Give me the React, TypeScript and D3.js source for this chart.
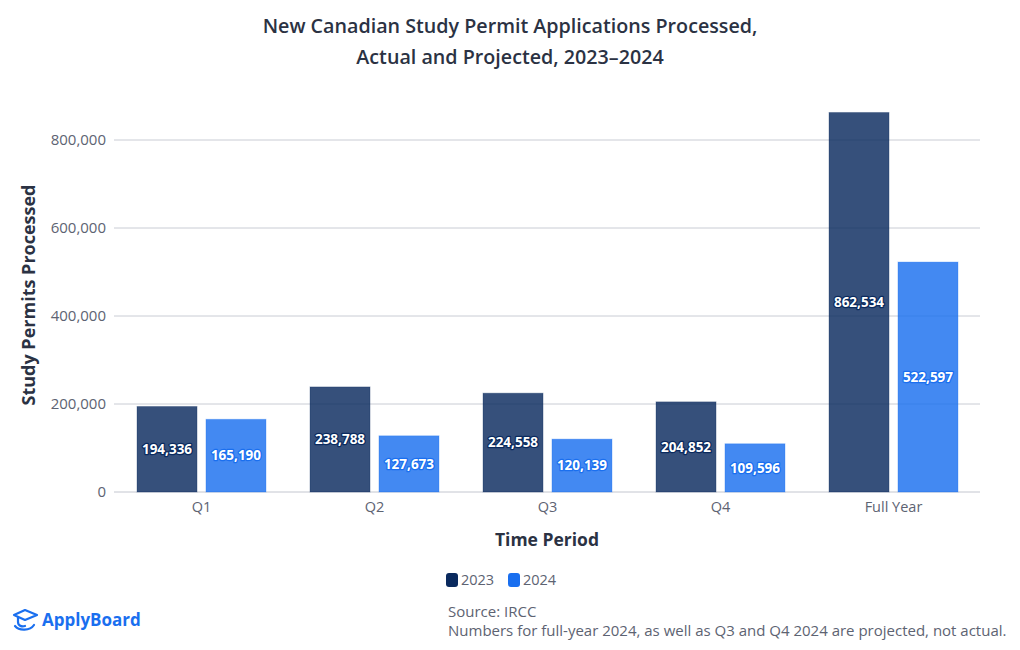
import React from "react";
import * as d3 from "d3";

const categories = ["Q1", "Q2", "Q3", "Q4", "Full Year"];
const seriesNames = ["2023", "2024"];
const values2023 = [194336, 238788, 224558, 204852, 862534];
const values2024 = [165190, 127673, 120139, 109596, 522597];
const yTicks = [0, 200000, 400000, 600000, 800000];
const colors = ["#0a2a5e", "#1a6fef"];

const W = 1020;
const H = 650;
const FONT = "'Open Sans', 'Noto Sans', sans-serif";

export default function App() {
  const left = 115;
  const right = 980;
  const bottom = 492;
  const x0 = d3.scaleBand<string>().domain(categories).range([left, right]).paddingInner(0).paddingOuter(0);
  const x1 = d3.scaleBand<string>().domain(seriesNames).range([22, x0.bandwidth() - 22]).paddingInner(0.13);
  const y = d3.scaleLinear().domain([0, 800000]).range([bottom, 140]);
  const fmt = d3.format(",");
  const series = [values2023, values2024];

  return (
    <svg width={W} height={H} style={{ display: "block", position: "absolute", left: 0, top: 0, background: "#fff" }} fontFamily={FONT}>
      <text x={510} y={33} textAnchor="middle" fontSize={19.7} fontWeight={600} fill="#2b3243">
        New Canadian Study Permit Applications Processed,
      </text>
      <text x={510} y={64} textAnchor="middle" fontSize={19.7} fontWeight={600} fill="#2b3243">
        Actual and Projected, 2023–2024
      </text>

      {yTicks.map((t) => (
        <g key={t}>
          <line x1={left - 1} x2={right} y1={y(t)} y2={y(t)} stroke={t === 0 ? "#c3c6cf" : "#c9ccd4"} strokeWidth={1} />
          <text x={106} y={y(t)} dy="0.35em" textAnchor="end" fontSize={15} fill="#5d6372">
            {fmt(t)}
          </text>
        </g>
      ))}

      {categories.map((c, i) => (
        <g key={c} transform={`translate(${x0(c)},0)`}>
          {series.map((vals, s) => {
            const bx = x1(seriesNames[s])!;
            const bw = x1.bandwidth();
            const by = y(vals[i]);
            return (
              <g key={s}>
                <rect x={bx} y={by} width={bw} height={bottom - by} fill={colors[s]} fillOpacity={0.82} stroke={colors[s]} strokeOpacity={0.3} strokeWidth={1} />
                <text
                  x={bx + bw / 2}
                  y={(by + bottom) / 2}
                  dy="0.35em"
                  textAnchor="middle"
                  fontSize={13.5}
                  fontWeight={700}
                  fill="#fff"
                  stroke={colors[s]}
                  strokeWidth={2.5}
                  paintOrder="stroke"
                  strokeLinejoin="round"
                >
                  {fmt(vals[i])}
                </text>
              </g>
            );
          })}
          <text x={x0.bandwidth() / 2} y={512} textAnchor="middle" fontSize={14.5} fill="#5d6372">
            {c}
          </text>
        </g>
      ))}

      <text x={547} y={546} textAnchor="middle" fontSize={17.5} fontWeight={700} fill="#2b3243">
        Time Period
      </text>
      <text transform={`translate(35,295) rotate(-90)`} textAnchor="middle" fontSize={18} fontWeight={700} fill="#2b3243">
        Study Permits Processed
      </text>

      {seriesNames.map((s, i) => (
        <g key={s} transform={`translate(${446 + i * 62},573)`}>
          <rect x={0} y={0} width={12} height={14} rx={3} fill={colors[i]} />
          <text x={15} y={12} fontSize={14.5} fill="#5d6372">
            {s}
          </text>
        </g>
      ))}

      <text x={448} y={617} fontSize={15} fill="#5d6372">Source: IRCC</text>
      <text x={448} y={636} fontSize={15} fill="#5d6372">
        Numbers for full-year 2024, as well as Q3 and Q4 2024 are projected, not actual.
      </text>

      <g transform="translate(12,609)" fill="none" stroke="#1a6fef" strokeWidth={2.2} strokeLinecap="round" strokeLinejoin="round">
        <path d="M2 6 L13 1 L25 6 L13 11 Z" />
        <path d="M6 8 L6 13 C6 17 10 18 13 17" />
        <path d="M3 17 C7 22 18 22 22 16" />
      </g>
      <text x={42} y={626} fontSize={17} fontWeight={700} fill="#1a6fef">ApplyBoard</text>
    </svg>
  );
}
